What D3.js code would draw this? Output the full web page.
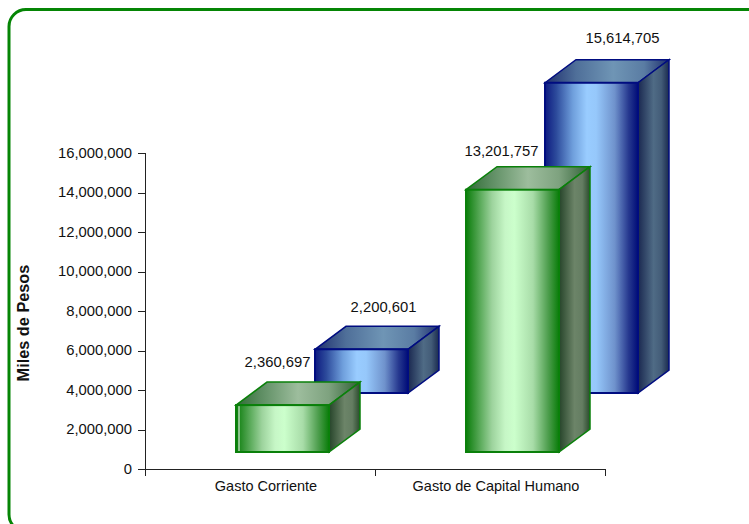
<!DOCTYPE html>
<html><head><meta charset="utf-8">
<script src="https://cdn.jsdelivr.net/npm/d3@7/dist/d3.min.js"></script>
<style>html,body{margin:0;padding:0;background:#fff;overflow:hidden}svg{display:block}text{font-family:"Liberation Sans",Arial,sans-serif;fill:#111}</style>
</head><body><svg id="c" width="749" height="524"></svg>
<script>
const categories = ["Gasto Corriente", "Gasto de Capital Humano"];
const seriesBack = [2200601, 15614705];
const seriesFront = [2360697, 13201757];
const tickValues = [0,2000000,4000000,6000000,8000000,10000000,12000000,14000000,16000000];
const axisTitle = "Miles de Pesos";

const svg = d3.select("#c");
const fmt = d3.format(",");
const y = d3.scaleLinear().domain([0,16000000]).range([469,153]);
const x = d3.scaleBand().domain(categories).range([145,605]);
const defs = svg.append("defs");
function grad(id, stops){
  const g = defs.append("linearGradient").attr("id",id).attr("x1",0).attr("x2",1).attr("y1",0).attr("y2",0);
  stops.forEach(([o,c])=>g.append("stop").attr("offset",o).attr("stop-color",c));
}
const gs = {
 gF:[[0,"#0a7d0a"],[.1,"#3f9a3f"],[.28,"#9dd39d"],[.42,"#c6f6c6"],[.52,"#ccffcc"],[.72,"#a8dca8"],[.88,"#4f9f4f"],[1,"#0a7d0a"]],
 gT:[[0,"#2f6b34"],[.2,"#5d8d62"],[.5,"#9dbd9d"],[.75,"#7ea27f"],[1,"#2f5f35"]],
 gS:[[0,"#26442a"],[.5,"#6c8468"],[.75,"#647d62"],[1,"#2a4a2c"]],
 bF:[[0,"#0d1a80"],[.12,"#2c4a9b"],[.3,"#6f9fdc"],[.45,"#99ccff"],[.55,"#96c8fb"],[.75,"#6f92cc"],[.9,"#26388f"],[1,"#000c78"]],
 bT:[[0,"#1f2f6e"],[.25,"#4f6f99"],[.55,"#6f95b5"],[.8,"#5a7ca3"],[1,"#1f2f6e"]],
 bS:[[0,"#1a2850"],[.5,"#4f6b85"],[.75,"#435c78"],[1,"#1a2a4e"]]
};
Object.entries(gs).forEach(([k,v])=>grad(k,v));

// frame (runs past the window at the right and bottom)
svg.append("rect").attr("x",9).attr("y",9.5).attr("width",760).attr("height",522).attr("rx",17).attr("fill","none").attr("stroke","#058505").attr("stroke-width",3);

// axes
const gy = svg.append("g").attr("transform","translate(145,0)").call(d3.axisLeft(y).tickValues(tickValues).tickFormat(fmt).tickSize(7).tickPadding(6));
const gx = svg.append("g").attr("transform","translate(0,469)").call(d3.axisBottom(x).tickSize(0).tickPadding(12));
gx.selectAll(".tick text").attr("dx",6);
gx.selectAll(".tickb").data(d3.range(categories.length+1)).join("line").attr("class","tickb")
  .attr("x1",i=>145+i*x.step()).attr("x2",i=>145+i*x.step()).attr("y1",0).attr("y2",7).attr("stroke","#333");
[gy,gx].forEach(g=>g.selectAll("path,line").attr("stroke","#222").attr("shape-rendering","crispEdges"));
gy.selectAll("text").style("font-family",'"Liberation Sans",Arial,sans-serif').style("font-size","14.8px").attr("fill","#111").attr("dy","0.28em");
gx.selectAll("text").style("font-family",'"Liberation Sans",Arial,sans-serif').style("font-size","14.5px").attr("fill","#111");
svg.append("text").attr("transform","translate(29,323) rotate(-90)").attr("text-anchor","middle").attr("font-size","16.3px").attr("font-weight","bold").text(axisTitle);

// bars (drawn a touch taller than the axis scale, as in the original 3D projection)
const barW = 93, dx = 31, dy = 23, depthScale = 1.006;
function bars(values, xoff, baseOff, stroke, pfx, nudges){
  values.forEach((v,i)=>{
    const L = x(categories[i])+xoff, R = L+barW, B = y(0)-baseOff, T = B-(y(0)-y(v))*depthScale;
    const g = svg.append("g");
    g.append("path").attr("d",`M${L},${T}L${L+dx},${T-dy}H${R+dx}L${R},${T}Z`).attr("fill",`url(#${pfx}T)`).attr("stroke",stroke).attr("stroke-width",1.5);
    g.append("path").attr("d",`M${R},${T}L${R+dx},${T-dy}V${B-dy}L${R},${B}Z`).attr("fill",`url(#${pfx}S)`).attr("stroke",stroke).attr("stroke-width",1.5);
    g.append("rect").attr("x",L).attr("y",T).attr("width",barW).attr("height",B-T).attr("fill",`url(#${pfx}F)`).attr("stroke",stroke).attr("stroke-width",2);
    svg.append("text").attr("x",L+nudges[i][0]).attr("y",T-dy-nudges[i][1]).attr("text-anchor","middle").attr("font-size","14.8px").text(fmt(v));
    if(pfx==="g" && i===0) g.append("line").attr("x1",L+3).attr("x2",L+3).attr("y1",T+1).attr("y2",B-1).attr("stroke","#fff");
  });
}
bars(seriesBack, 170, 76, "#000c80", "b", [[68.5,14],[77.5,17]]);
bars(seriesFront, 91, 17, "#0a800a", "g", [[41.5,15],[35.5,11]]);
</script></body></html>
